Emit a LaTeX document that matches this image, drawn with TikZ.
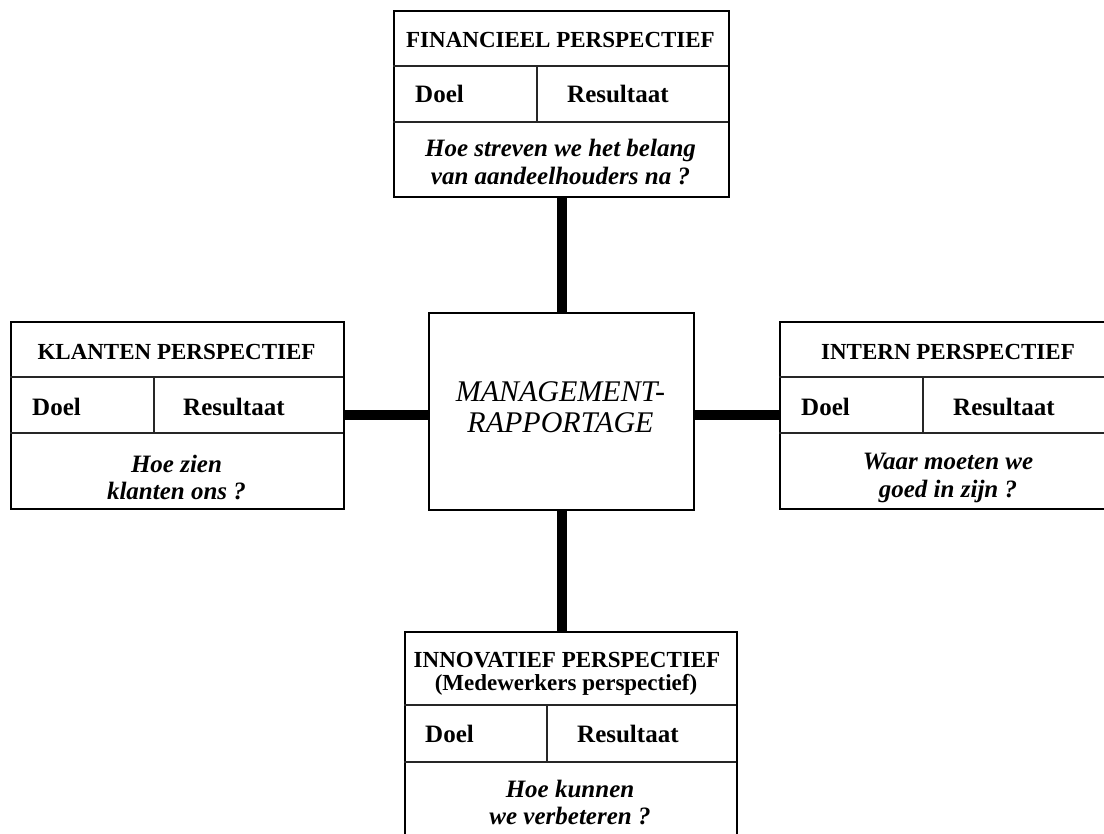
\documentclass[tikz,border=0pt]{standalone}
\usepackage{fontspec}
\setmainfont{Liberation Serif}
\begin{document}
\begin{tikzpicture}[x=1pt,y=-1pt,
  frame/.style={draw=black,line width=2pt,fill=white,inner sep=0pt,anchor=north west},
  rule/.style={draw=black!85,line width=1.1pt},
  conn/.style={line width=10pt,black,line cap=butt},
  head/.style={font=\fontsize{23}{28}\selectfont\bfseries,anchor=base,inner sep=0pt},
  cell/.style={font=\fontsize{25}{30}\selectfont\bfseries,anchor=base west,inner sep=0pt},
  ask/.style={font=\fontsize{25}{30}\selectfont\bfseries\itshape,anchor=base,inner sep=0pt},
  core/.style={font=\fontsize{30}{36}\selectfont\itshape,anchor=base,inner sep=0pt},
]
\path[use as bounding box] (0,0) rectangle (1104,834);
\clip (0,0) rectangle (1104,834);

% outer frames
\node[frame,minimum width=335pt,minimum height=186pt] (fin) at (393,10) {};
\node[frame,minimum width=333pt,minimum height=187pt] (klant) at (10,321) {};
\node[frame,minimum width=333pt,minimum height=187pt] (intern) at (779,321) {};
\node[frame,minimum width=332pt,minimum height=205pt] (inn) at (404,631) {};
\node[frame,minimum width=265pt,minimum height=197pt] (mgmt) at (428,312) {};

% table rules inside the frames
\draw[rule] (393,66) -- (728,66) (393,122) -- (728,122) (537,66) -- (537,122);
\draw[rule] (10,377) -- (343,377) (10,433) -- (343,433) (154,377) -- (154,433);
\draw[rule] (779,377) -- (1112,377) (779,433) -- (1112,433) (923,377) -- (923,433);
\draw[rule] (404,705) -- (736,705) (404,762) -- (736,762) (547,705) -- (547,762);

% connectors to the central report
\draw[conn] (fin.south) -- (mgmt.north);
\draw[conn] (klant.east) -- (klant.east -| mgmt.west);
\draw[conn] (intern.west) -- (intern.west -| mgmt.east);
\draw[conn] (mgmt.south) -- (mgmt.south |- inn.north);

% financial
\node[head] (finh) at (560.5,48) {FINANCIEEL PERSPECTIEF};
\node[cell] (find) at (415,102.5) {Doel};
\node[cell] (finr) at (567,102.5) {Resultaat};
\node[ask] (finq1) at (560.5,157) {Hoe streven we het belang};
\node[ask] (finq2) at (560.5,185) {van aandeelhouders na ?};

% customers
\node[head] (klanth) at (176.5,360) {KLANTEN PERSPECTIEF};
\node[cell] (klantd) at (32,416) {Doel};
\node[cell] (klantr) at (183,416) {Resultaat};
\node[ask] (klantq1) at (176.5,472) {Hoe zien};
\node[ask] (klantq2) at (176.5,500) {klanten ons ?};

% internal
\node[head] (internh) at (948,360) {INTERN PERSPECTIEF};
\node[cell] (internd) at (801,416) {Doel};
\node[cell] (internr) at (953,416) {Resultaat};
\node[ask] (internq1) at (948,470) {Waar moeten we};
\node[ask] (internq2) at (948,497) {goed in zijn ?};

% innovation
\node[head] (innh1) at (567,667) {INNOVATIEF PERSPECTIEF};
\node[head] (innh2) at (566,690) {(Medewerkers perspectief)};
\node[cell] (innd) at (425,742) {Doel};
\node[cell] (innr) at (577,742) {Resultaat};
\node[ask] (innq1) at (570,797) {Hoe kunnen};
\node[ask] (innq2) at (570,824) {we verbeteren ?};

% central report
\node[core] (mgmt1) at (560.5,402) {MANAGEMENT-};
\node[core] (mgmt2) at (560.5,433) {RAPPORTAGE};
\end{tikzpicture}
\end{document}
